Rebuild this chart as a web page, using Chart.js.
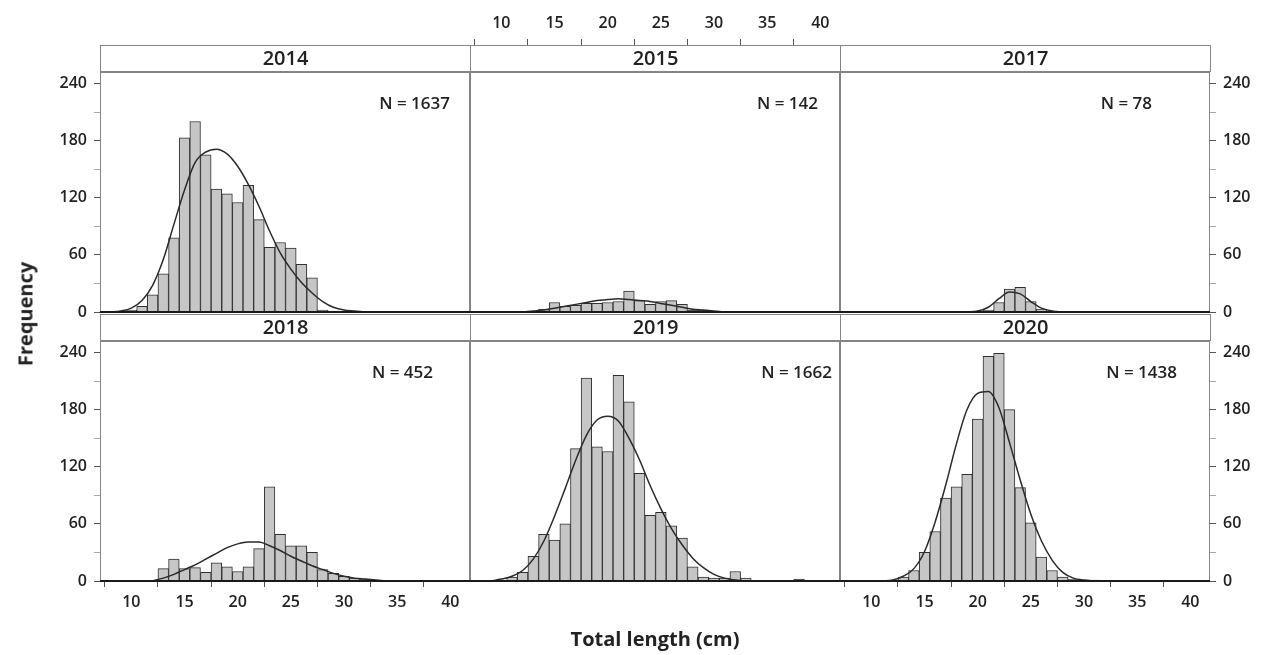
<!DOCTYPE html>
<html>
<head>
<meta charset="utf-8">
<script src="https://cdn.jsdelivr.net/npm/chart.js@4.4.0/dist/chart.umd.min.js"></script>
<style>
  body { margin: 0; background: #fff; }
  #page { position: relative; width: 1272px; height: 655px; overflow: hidden; font-family: "Open Sans", sans-serif; color: #222; }
  #page canvas { position: absolute; left: 0; top: 0; }
  .strip { position: absolute; box-sizing: border-box; border: 1px solid #858585; background: #fff; text-align: center; font-size: 20px; font-weight: 600; line-height: 24px; z-index: 2; }
  .nlab { position: absolute; font-size: 17px; font-weight: 600; line-height: 22px; white-space: nowrap; z-index: 2; }
  .title { position: absolute; font-size: 20px; font-weight: 700; white-space: nowrap; z-index: 2; }
</style>
</head>
<body>
<div id="page"></div>
<script>
// tick labels
const xTickVals = [10, 15, 20, 25, 30, 35, 40];
const yTickVals = [0, 30, 60, 90, 120, 150, 180, 210, 240];

// histogram bins (cm, bin centres) and counts, plus fitted curve
const bins2014 = [9, 10, 11, 12, 13, 14, 15, 16, 17, 18, 19, 20, 21, 22, 23, 24, 25, 26, 27, 28, 29];
const counts2014 = [1, 2, 6, 18, 40, 78, 183, 200, 165, 129, 124, 115, 133, 97, 68, 73, 67, 50, 36, 2, 1];
const curveX2014 = [8, 9, 10, 11, 12, 13, 14, 15, 16, 17, 18, 19, 20, 21, 22, 23, 24, 25, 26, 27, 28, 29, 30, 31, 32];
const curveY2014 = [0, 1, 4, 12, 28, 55, 92, 128, 157, 168, 171, 166, 153, 134, 111, 85, 62, 45, 31, 20, 11, 5, 2, 1, 0];

const bins2015 = [14, 15, 16, 17, 18, 19, 20, 21, 22, 23, 24, 25, 26, 27, 28, 29];
const counts2015 = [3, 10, 6, 7, 9, 9, 10, 11, 22, 12, 8, 11, 12, 8, 2, 2];
const curveX2015 = [12, 13, 14, 15, 16, 17, 18, 19, 20, 21, 22, 23, 24, 25, 26, 27, 28, 29, 30, 31];
const curveY2015 = [0, 1, 2, 4, 6, 8, 10, 12, 13, 14, 13, 12, 11, 9, 7, 5, 3, 2, 1, 0];

const bins2017 = [20, 21, 22, 23, 24, 25, 26, 27];
const counts2017 = [1, 2, 10, 24, 26, 11, 3, 1];
const curveX2017 = [19, 20, 21, 22, 23, 24, 25, 26, 27, 28];
const curveY2017 = [0, 1, 5, 14, 21, 19, 11, 4, 1, 0];

const bins2018 = [13, 14, 15, 16, 17, 18, 19, 20, 21, 22, 23, 24, 25, 26, 27, 28, 29, 30, 31, 32, 33];
const counts2018 = [13, 23, 13, 14, 9, 19, 15, 10, 15, 34, 99, 49, 37, 37, 30, 12, 8, 5, 3, 2, 1];
const curveX2018 = [12, 13, 14, 15, 16, 17, 18, 19, 20, 21, 22, 23, 24, 25, 26, 27, 28, 29, 30, 31, 32, 33, 34];
const curveY2018 = [0, 3, 7, 12, 17, 23, 29, 35, 39, 41, 41, 37, 32, 26, 21, 16, 12, 8, 5, 3, 2, 1, 0];

const bins2019 = [11, 12, 13, 14, 15, 16, 17, 18, 19, 20, 21, 22, 23, 24, 25, 26, 27, 28, 29, 30, 31, 32, 33, 38];
const counts2019 = [4, 9, 26, 49, 43, 60, 139, 213, 141, 136, 216, 188, 113, 69, 72, 58, 45, 15, 4, 3, 3, 10, 3, 2];
const curveX2019 = [9, 10, 11, 12, 13, 14, 15, 16, 17, 18, 19, 20, 21, 22, 23, 24, 25, 26, 27, 28, 29, 30, 31, 32, 33];
const curveY2019 = [0, 2, 5, 11, 23, 42, 68, 97, 127, 153, 169, 173, 168, 150, 127, 100, 76, 55, 38, 24, 14, 7, 3, 1, 0];

const bins2020 = [13, 14, 15, 16, 17, 18, 19, 20, 21, 22, 23, 24, 25, 26, 27, 28, 29, 30, 31];
const counts2020 = [4, 11, 30, 52, 87, 99, 112, 170, 236, 239, 180, 98, 61, 25, 11, 4, 2, 1, 1];
const curveX2020 = [11, 12, 13, 14, 15, 16, 17, 18, 19, 20, 21, 22, 23, 24, 25, 26, 27, 28, 29, 30, 31];
const curveY2020 = [0, 1, 5, 13, 31, 62, 101, 144, 180, 197, 199, 182, 145, 106, 70, 42, 22, 9, 3, 1, 0];

const panels = [
    { year: '2014', n: 'N = 1637', bins: bins2014, counts: counts2014, cx: curveX2014, cy: curveY2014, col: 0, row: 0, nRight: 450 },
    { year: '2015', n: 'N = 142', bins: bins2015, counts: counts2015, cx: curveX2015, cy: curveY2015, col: 1, row: 0, nRight: 818 },
    { year: '2017', n: 'N = 78', bins: bins2017, counts: counts2017, cx: curveX2017, cy: curveY2017, col: 2, row: 0, nRight: 1152 },
    { year: '2018', n: 'N = 452', bins: bins2018, counts: counts2018, cx: curveX2018, cy: curveY2018, col: 0, row: 1, nRight: 433 },
    { year: '2019', n: 'N = 1662', bins: bins2019, counts: counts2019, cx: curveX2019, cy: curveY2019, col: 1, row: 1, nRight: 832 },
    { year: '2020', n: 'N = 1438', bins: bins2020, counts: counts2020, cx: curveX2020, cy: curveY2020, col: 2, row: 1, nRight: 1177 },
];

// layout (page pixels)
const W = 1272, H = 655;
const colLeft = [100, 470, 840];
const rowTop = [72, 341];
const plotW = 370, plotH = 240;
const stripH = 27;
const X_MIN = 7.05, X_MAX = 41.85, Y_MAX = 252;
const tickFont = { family: 'Open Sans', size: 16, weight: '600' };

const page = document.getElementById('page');

const framePlugin = {
    id: 'frame',
    afterDraw(chart) {
        const { ctx, chartArea: a } = chart;
        const y0 = chart.scales.y.getPixelForValue(0);
        ctx.save();
        ctx.strokeStyle = '#858585';
        ctx.lineWidth = 1;
        ctx.strokeRect(a.left + 0.5, a.top + 0.5, a.right - a.left - 1, a.bottom - a.top);
        ctx.strokeStyle = '#1a1a1a';
        ctx.lineWidth = 2;
        ctx.beginPath();
        ctx.moveTo(a.left, y0);
        ctx.lineTo(a.right, y0);
        ctx.stroke();
        ctx.restore();
    }
};

panels.forEach(p => {
    const yLeft = p.col === 0, yRight = p.col === 2;
    const xBottom = p.row === 1 && p.col !== 1;
    const xTop = p.row === 0 && p.col === 1;
    const axisW = 70, botH = 50, topH = 72;

    const left = colLeft[p.col], top = rowTop[p.row];
    const padding = {
        left: left - (yLeft ? axisW : 0),
        right: W - (left + plotW) - (yRight ? axisW : 0),
        top: top - (xTop ? topH : 0),
        bottom: H - (top + plotH) - (xBottom ? botH : 0),
    };

    const canvas = document.createElement('canvas');
    canvas.width = W;
    canvas.height = H;
    page.appendChild(canvas);

    new Chart(canvas, {
        type: 'bar',
        data: {
            datasets: [
                {
                    type: 'line',
                    data: p.cx.map((x, i) => ({ x: x, y: p.cy[i] })),
                    borderColor: '#2a2a2a',
                    borderWidth: 1.5,
                    pointRadius: 0,
                    cubicInterpolationMode: 'monotone',
                    fill: false,
                    order: 0,
                },
                {
                    data: p.bins.map((x, i) => ({ x: x, y: p.counts[i] })),
                    backgroundColor: '#c6c6c6',
                    borderColor: '#303030',
                    borderWidth: 1,
                    barPercentage: 1,
                    categoryPercentage: 1,
                    order: 1,
                },
            ],
        },
        options: {
            responsive: false,
            animation: false,
            devicePixelRatio: 1,
            layout: { padding: padding },
            plugins: { legend: { display: false }, tooltip: { enabled: false } },
            scales: {
                x: {
                    type: 'linear',
                    position: 'bottom',
                    min: X_MIN,
                    max: X_MAX,
                    offset: false,
                    display: xBottom,
                    afterBuildTicks: s => { s.ticks = xTickVals.map(v => ({ value: v })); },
                    afterFit: s => { if (xBottom) s.height = botH; },
                    grid: { drawOnChartArea: false, tickLength: 6, color: '#555' },
                    border: { display: false },
                    ticks: { font: tickFont, color: '#222', padding: 6, maxRotation: 0, autoSkip: false },
                },
                xTop: {
                    type: 'linear',
                    position: 'top',
                    min: X_MIN,
                    max: X_MAX,
                    offset: false,
                    display: xTop,
                    afterBuildTicks: s => { s.ticks = xTickVals.map(v => ({ value: v })); },
                    afterFit: s => { if (xTop) s.height = topH; },
                    grid: { drawOnChartArea: false, tickLength: 33, color: '#555' },
                    border: { display: false },
                    ticks: { font: tickFont, color: '#222', padding: 6, maxRotation: 0, autoSkip: false },
                },
                y: {
                    type: 'linear',
                    position: yRight ? 'right' : 'left',
                    min: 0,
                    max: Y_MAX,
                    display: yLeft || yRight,
                    afterBuildTicks: s => { s.ticks = yTickVals.map(v => ({ value: v })); },
                    afterFit: s => { if (yLeft || yRight) s.width = axisW; },
                    grid: {
                        drawOnChartArea: false,
                        tickLength: 6,
                        tickColor: c => (c.tick && c.tick.value % 60 ? '#aaa' : '#555'),
                    },
                    border: { display: false },
                    ticks: {
                        font: tickFont,
                        color: '#222',
                        padding: 7,
                        autoSkip: false,
                        callback: v => (v % 60 === 0 ? v : ''),
                    },
                },
            },
        },
        plugins: [framePlugin],
    });

    // strip header with the year
    const strip = document.createElement('div');
    strip.className = 'strip';
    strip.style.left = left + 'px';
    strip.style.top = (top - stripH) + 'px';
    strip.style.width = (plotW + 1) + 'px';
    strip.style.height = stripH + 'px';
    strip.textContent = p.year;
    page.appendChild(strip);

    // sample size label
    const nl = document.createElement('div');
    nl.className = 'nlab';
    nl.style.right = (W - p.nRight) + 'px';
    nl.style.top = (top + 20) + 'px';
    nl.textContent = p.n;
    page.appendChild(nl);
});

const yTitle = document.createElement('div');
yTitle.className = 'title';
yTitle.textContent = 'Frequency';
yTitle.style.left = '25px';
yTitle.style.top = '314px';
yTitle.style.transform = 'translate(-50%, -50%) rotate(-90deg)';
page.appendChild(yTitle);

const xTitle = document.createElement('div');
xTitle.className = 'title';
xTitle.textContent = 'Total length (cm)';
xTitle.style.left = '655px';
xTitle.style.top = '638px';
xTitle.style.transform = 'translate(-50%, -50%)';
page.appendChild(xTitle);
</script>
</body>
</html>
